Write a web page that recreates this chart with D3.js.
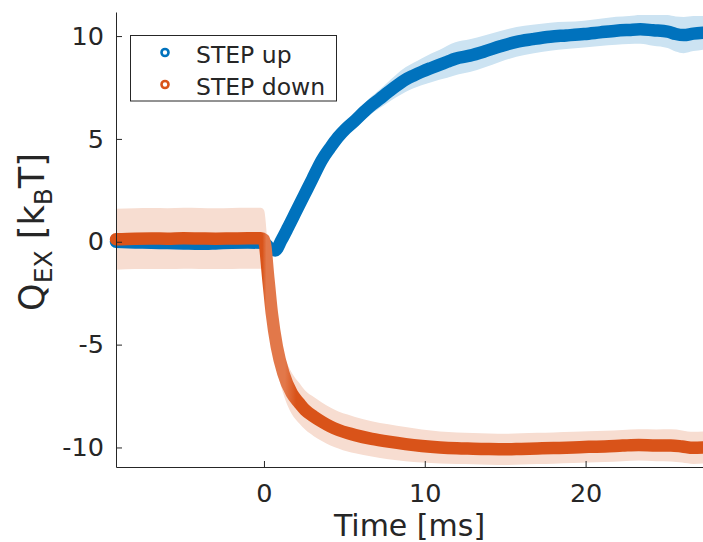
<!DOCTYPE html>
<html><head><meta charset="utf-8">
<script src="https://cdn.jsdelivr.net/npm/d3@7"></script>
<style>body{margin:0;background:#fff}svg{display:block}text{font-family:"DejaVu Sans",sans-serif;fill:#262626}</style>
</head><body>
<script>
// STEP up (time in ms, Q_EX mean, band half-width)
const upT = [-9.2,-8,-7,-6,-5,-4,-3,-2,-1,0,0.35,0.7,1.1,1.5,2.0,2.5,3.0,3.6,4.1,4.6,5.1,5.7,6.2,6.7,7.2,7.7,8.2,8.8,9.3,9.8,10.4,10.9,11.4,11.9,12.8,13.7,14.7,15.7,16.7,17.8,18.8,19.9,20.9,21.9,22.7,23.4,24.2,25.1,25.6,26.1,26.7,27.3];
const upV = [0.0,-0.03,-0.05,-0.06,-0.08,-0.1,-0.08,-0.05,-0.04,-0.05,-0.3,-0.42,0.1,0.7,1.48,2.26,3.04,3.97,4.55,5.08,5.5,5.92,6.3,6.65,6.95,7.26,7.56,7.88,8.08,8.26,8.45,8.6,8.75,8.9,9.05,9.25,9.5,9.72,9.85,9.97,10.03,10.1,10.18,10.26,10.3,10.33,10.28,10.22,10.1,10.05,10.12,10.16];
const upE = [0.1,0.1,0.1,0.1,0.1,0.1,0.1,0.1,0.1,0.1,0.1,0.1,0.12,0.15,0.2,0.22,0.25,0.28,0.3,0.32,0.35,0.38,0.4,0.42,0.45,0.5,0.55,0.6,0.62,0.65,0.7,0.72,0.78,0.8,0.8,0.78,0.75,0.72,0.7,0.68,0.66,0.65,0.66,0.68,0.68,0.7,0.75,0.8,0.85,0.88,0.85,0.82];
// STEP down
const downT = [-9.2,-8,-7,-6,-5,-4,-3,-2,-1,-0.2,0.0,0.28,0.49,0.8,1.21,1.73,2.2,2.56,3.1,3.6,4.1,4.63,5.2,5.67,6.7,7.74,8.8,9.82,10.95,12,13,14,15.1,16,17,18,19.25,20.2,21.2,22.3,23.3,24.4,25.3,26,26.7,27.3];
const downV = [0.12,0.15,0.16,0.15,0.17,0.16,0.15,0.16,0.17,0.17,0.1,-1.86,-3.48,-5.1,-6.4,-7.37,-7.85,-8.18,-8.5,-8.75,-8.97,-9.15,-9.3,-9.4,-9.58,-9.72,-9.84,-9.93,-10.0,-10.04,-10.06,-10.08,-10.09,-10.07,-10.05,-10.03,-10.0,-9.97,-9.95,-9.91,-9.88,-9.9,-9.9,-9.95,-10.02,-10.0];
const downE = [1.48,1.48,1.48,1.48,1.48,1.48,1.48,1.48,1.48,1.48,1.45,1.2,1.1,1.05,1.0,1.0,0.98,0.95,0.95,0.93,0.92,0.9,0.9,0.88,0.86,0.85,0.83,0.8,0.78,0.77,0.76,0.76,0.76,0.76,0.76,0.76,0.76,0.76,0.76,0.76,0.76,0.77,0.78,0.78,0.78,0.78];

const xTicks = [0,10,20];
const yTicks = [-10,-5,0,5,10];
const yTickLabels = ["-10","-5","0","5","10"];
const seriesNames = ["STEP up","STEP down"];
const colors = ["#0072BD","#D95319"];
const bandColors = ["#CCE3F2","#F7DDD1"];

const W = 703, H = 542;
const x = d3.scaleLinear().domain([-9.2, 27.3]).range([116, 703]);
const y = d3.scaleLinear().domain([-10.95, 11.17]).range([467, 12]);

const svg = d3.select("body").append("svg").attr("width", W).attr("height", H);

// lighter texture where the STEP down markers are spread on the steep drop
const defs = svg.append("defs");
const grad = defs.append("linearGradient").attr("id", "downGrad")
  .attr("gradientUnits", "userSpaceOnUse")
  .attr("x1", x(-9.2)).attr("x2", x(27.3)).attr("y1", 0).attr("y2", 0);
const span = x(27.3) - x(-9.2);
const off = t => (x(t) - x(-9.2)) / span;
[[off(-0.1), colors[1]], [off(0.15), "#E2784A"], [off(1.3), "#E2784A"], [off(2.0), colors[1]]]
  .forEach(([o, c]) => grad.append("stop").attr("offset", o).attr("stop-color", c));

const series = [
  {t: upT, v: upV, e: upE},
  {t: downT, v: downV, e: downE}
].map(s => s.t.map((t, i) => ({t, v: s.v[i], e: s.e[i]})));

const area = d3.area().curve(d3.curveMonotoneX)
  .x(d => x(d.t)).y0(d => y(d.v - d.e)).y1(d => y(d.v + d.e));
const line = d3.line().curve(d3.curveMonotoneX)
  .x(d => x(d.t)).y(d => y(d.v));

series.forEach((s, i) => {
  svg.append("path").attr("d", area(s)).attr("fill", bandColors[i]).attr("stroke", "none");
});
series.forEach((s, i) => {
  svg.append("path").attr("d", line(s)).attr("fill", "none")
    .attr("stroke", i === 1 ? "url(#downGrad)" : colors[i]).attr("stroke-width", 12.5)
    .attr("stroke-linecap", "round").attr("stroke-linejoin", "round");
});

// axes
const xAxis = d3.axisBottom(x).tickValues(xTicks).tickSizeInner(-6).tickSizeOuter(0).tickPadding(17);
const yAxis = d3.axisLeft(y).tickValues(yTicks).tickFormat((d, i) => yTickLabels[i]).tickSizeInner(-6).tickSizeOuter(0).tickPadding(12);
const gx = svg.append("g").attr("transform", "translate(0,467)").call(xAxis);
const gy = svg.append("g").attr("transform", "translate(116,0)").call(yAxis);
[gx, gy].forEach(g => {
  g.select(".domain").attr("stroke", "#262626").attr("stroke-width", 1);
  g.selectAll(".tick line").attr("stroke", "#262626");
  g.selectAll(".tick text").attr("font-size", 25.5).attr("font-family", "DejaVu Sans").attr("fill", "#262626");
});

// axis labels
svg.append("text").attr("x", 409.5).attr("y", 536).attr("text-anchor", "middle")
  .attr("font-size", 30).text("Time [ms]");

const yl = svg.append("text").attr("transform", "translate(44,232) rotate(-90)")
  .attr("text-anchor", "middle").attr("font-size", 35);
yl.append("tspan").text("Q");
yl.append("tspan").attr("font-size", 25).attr("dy", 8).text("EX");
yl.append("tspan").attr("dy", -8).text(" [k");
yl.append("tspan").attr("font-size", 25).attr("dy", 8).text("B");
yl.append("tspan").attr("dy", -8).text("T]");

// legend
const lg = svg.append("g");
lg.append("rect").attr("x", 130.5).attr("y", 35.5).attr("width", 206).attr("height", 65.5)
  .attr("fill", "#fff").attr("stroke", "#262626").attr("stroke-width", 1);
seriesNames.forEach((n, i) => {
  const cy = 52.5 + i * 32;
  lg.append("circle").attr("cx", 165).attr("cy", cy).attr("r", 3.5)
    .attr("fill", "none").attr("stroke", colors[i]).attr("stroke-width", 2.6);
  lg.append("text").attr("x", 196).attr("y", cy + 10.3).attr("font-size", 23.5).attr("fill", "#000").text(n);
});
</script>
</body></html>
